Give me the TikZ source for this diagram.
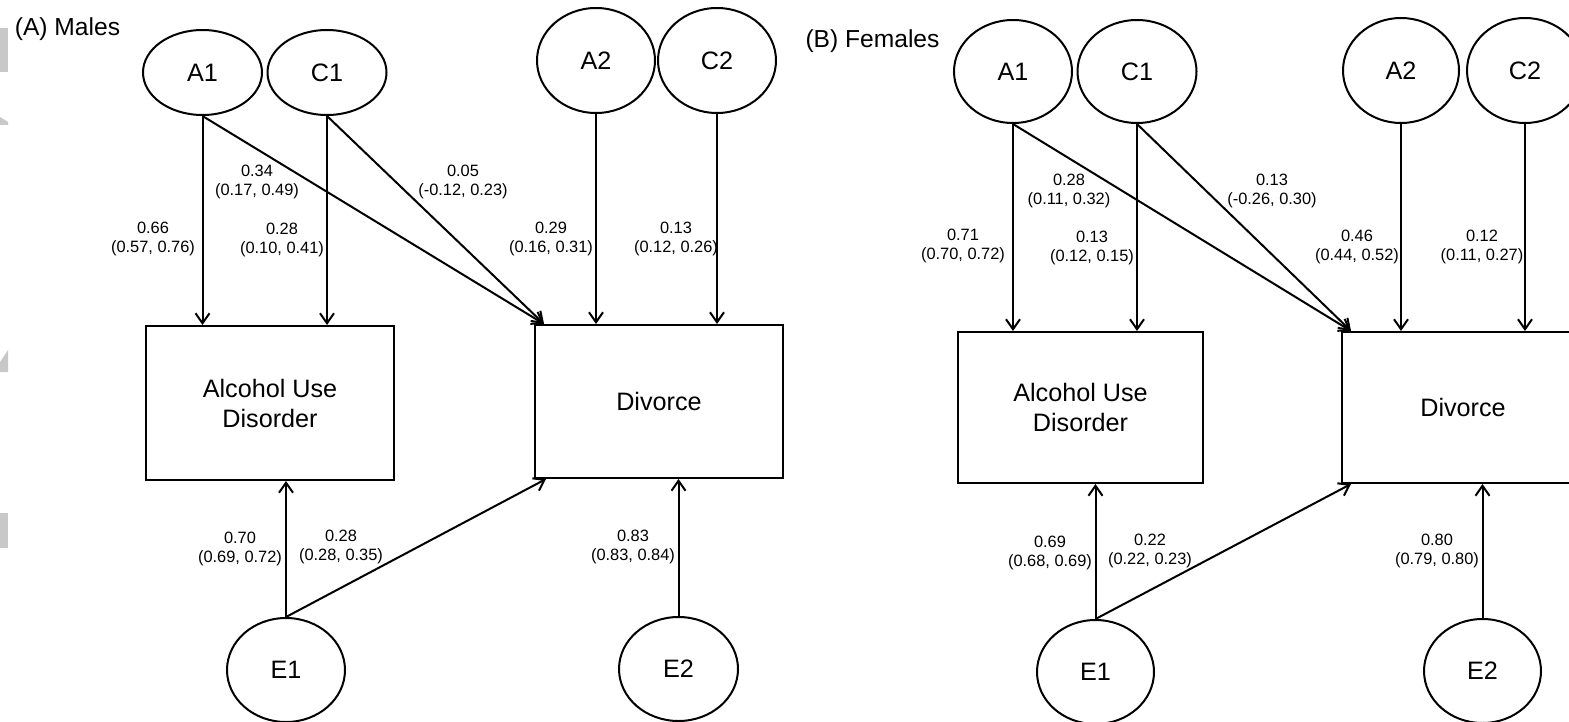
\documentclass[tikz,border=0pt]{standalone}
\usepackage{fontspec}
\setmainfont{Liberation Sans}
\usetikzlibrary{shapes.geometric}
\usetikzlibrary{arrows.meta}
\definecolor{ghost}{RGB}{200,200,200}

\begin{document}
\begin{tikzpicture}[x=0.5pt, y=-0.5pt,
    latent/.style={draw, ellipse, line width=1pt, inner sep=0pt, font=\fontsize{12.6}{15}\selectfont},
    observed/.style={draw, rectangle, line width=1pt, align=center, inner sep=0pt, font=\fontsize{12.6}{15}\selectfont},
    effect/.style={line width=1pt, -{Straight Barb[length=5pt,width=7pt]}},
    est/.style={align=center, inner sep=0pt, font=\fontsize{8.2}{9.5}\selectfont},
    panel/.style={inner sep=0pt, font=\fontsize{12.3}{15}\selectfont}]
    \useasboundingbox (0,0) rectangle (1569,722);
    \clip (0,0) rectangle (1569,722);

    % left margin leftovers
    \fill[ghost] (0,28) rectangle (8,72);
    \fill[ghost] (0,117) -- (8,122) -- (8,125) -- (0,125) -- cycle;
    \fill[ghost] (0,362) -- (8,350) -- (8,372) -- (0,372) -- cycle;
    \fill[ghost] (0,513) rectangle (8,548);

    % (A) Males
    \node[panel] (tA) at (67.5,29) {(A) Males};
    \node[latent, minimum width=59.5pt, minimum height=42.5pt] (mA1) at (202.5,72.5) {A1};
    \node[latent, minimum width=59.5pt, minimum height=42.5pt] (mC1) at (327,72.5) {C1};
    \node[latent, minimum width=59pt, minimum height=52.5pt] (mA2) at (596,60.5) {A2};
    \node[latent, minimum width=59pt, minimum height=52.5pt] (mC2) at (717,60.5) {C2};
    \node[observed, minimum width=124pt, minimum height=77pt] (mAUD) at (270,403) {Alcohol Use\\Disorder};
    \node[observed, minimum width=124pt, minimum height=76.5pt] (mDiv) at (659,401.5) {Divorce};
    \node[latent, minimum width=59pt, minimum height=52pt] (mE1) at (286,670) {E1};
    \node[latent, minimum width=59.5pt, minimum height=52pt] (mE2) at (678.5,669) {E2};
    \coordinate (mDinT) at ([xshift=5pt]mDiv.north west);
    \coordinate (mDinB) at ([xshift=6pt]mDiv.south west);

    \draw[effect] (mA1.south) -- (mA1.south |- mAUD.north);
    \draw[effect] (mC1.south) -- (mC1.south |- mAUD.north);
    \draw[effect] (mA1.south) -- (mDinT);
    \draw[effect] (mC1.south) -- (mDinT);
    \draw[effect] (mA2.south) -- (mA2.south |- mDiv.north);
    \draw[effect] (mC2.south) -- (mC2.south |- mDiv.north);
    \draw[effect] (mE1.north) -- (mE1.north |- mAUD.south);
    \draw[effect] (mE1.north) -- (mDinB);
    \draw[effect] (mE2.north) -- (mE2.north |- mDiv.south);

    \node[est] (lmA1a) at (153,238.5) {0.66\\(0.57, 0.76)};
    \node[est] (lmA1d) at (257,182) {0.34\\(0.17, 0.49)};
    \node[est] (lmC1a) at (282,239.5) {0.28\\(0.10, 0.41)};
    \node[est] (lmC1d) at (463,181.5) {0.05\\(-0.12, 0.23)};
    \node[est] (lmA2d) at (551,238.5) {0.29\\(0.16, 0.31)};
    \node[est] (lmC2d) at (676,238.5) {0.13\\(0.12, 0.26)};
    \node[est] (lmE1a) at (240,548.5) {0.70\\(0.69, 0.72)};
    \node[est] (lmE1d) at (341,547) {0.28\\(0.28, 0.35)};
    \node[est] (lmE2d) at (633,547) {0.83\\(0.83, 0.84)};

    % (B) Females
    \node[panel] (tB) at (872.5,41) {(B) Females};
    \node[latent, minimum width=59pt, minimum height=51.5pt] (fA1) at (1013,71.5) {A1};
    \node[latent, minimum width=59.5pt, minimum height=51.5pt] (fC1) at (1137,71.5) {C1};
    \node[latent, minimum width=58pt, minimum height=52.5pt] (fA2) at (1401,70.5) {A2};
    \node[latent, minimum width=58pt, minimum height=52.5pt] (fC2) at (1525,70.5) {C2};
    \node[observed, minimum width=122.5pt, minimum height=75.5pt] (fAUD) at (1080.5,407.5) {Alcohol Use\\Disorder};
    \node[observed, minimum width=121pt, minimum height=75.5pt] (fDiv) at (1463,407.5) {Divorce};
    \node[latent, minimum width=58.5pt, minimum height=52pt] (fE1) at (1095.5,672) {E1};
    \node[latent, minimum width=58.5pt, minimum height=52pt] (fE2) at (1482.5,671) {E2};
    \coordinate (fDinT) at ([xshift=5pt]fDiv.north west);
    \coordinate (fDinB) at ([xshift=5pt]fDiv.south west);

    \draw[effect] (fA1.south) -- (fA1.south |- fAUD.north);
    \draw[effect] (fC1.south) -- (fC1.south |- fAUD.north);
    \draw[effect] (fA1.south) -- (fDinT);
    \draw[effect] (fC1.south) -- (fDinT);
    \draw[effect] (fA2.south) -- (fA2.south |- fDiv.north);
    \draw[effect] (fC2.south) -- (fC2.south |- fDiv.north);
    \draw[effect] (fE1.north) -- (fE1.north |- fAUD.south);
    \draw[effect] (fE1.north) -- (fDinB);
    \draw[effect] (fE2.north) -- (fE2.north |- fDiv.south);

    \node[est] (lfA1a) at (963,245.5) {0.71\\(0.70, 0.72)};
    \node[est] (lfA1d) at (1069,190.5) {0.28\\(0.11, 0.32)};
    \node[est] (lfC1a) at (1092,248) {0.13\\(0.12, 0.15)};
    \node[est] (lfC1d) at (1272,190.5) {0.13\\(-0.26, 0.30)};
    \node[est] (lfA2d) at (1357,247) {0.46\\(0.44, 0.52)};
    \node[est] (lfC2d) at (1482,247) {0.12\\(0.11, 0.27)};
    \node[est] (lfE1a) at (1050,552.5) {0.69\\(0.68, 0.69)};
    \node[est] (lfE1d) at (1150,550.5) {0.22\\(0.22, 0.23)};
    \node[est] (lfE2d) at (1437,550.5) {0.80\\(0.79, 0.80)};
\end{tikzpicture}
\end{document}
